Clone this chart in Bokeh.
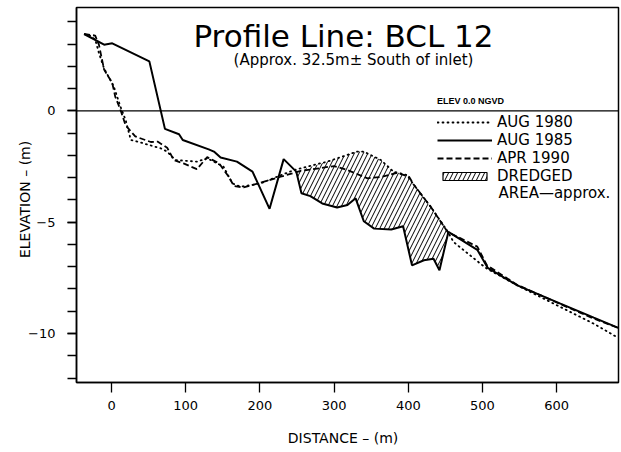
import numpy as np
from bokeh.plotting import figure
from bokeh.models import Range1d, FixedTicker, Span, Label, Legend, LegendItem
from bokeh.embed import file_html
from bokeh.resources import INLINE

# ---- data ----
x_1980 = [-30, -22, -17, -10, 3, 12, 19, 26, 35, 50, 66, 75, 86, 115, 129, 151, 163, 174,
          201, 223, 246, 291, 331, 340, 363, 380, 398, 407, 430, 452, 461, 497, 506, 551,
          605, 650, 683]
y_1980 = [3.4, 3.2, 2.6, 1.9, 1.1, 0.19, -0.41, -1.31, -1.38, -1.53, -1.68, -1.83, -2.21,
          -2.28, -2.13, -2.51, -3.26, -3.41, -3.26, -2.96, -2.66, -2.28, -1.83, -1.83,
          -2.21, -2.73, -2.88, -3.3, -4.3, -5.36, -5.89, -6.86, -7.09, -7.91, -8.81, -9.56,
          -10.2]

x_1985 = [-37, -10, 1, 51, 72, 91, 96, 131, 138, 147, 169, 190, 213, 232, 249, 256, 268,
          284, 304, 318, 329, 340, 354, 377, 393, 405, 421, 434, 442, 454, 493, 507, 547,
          605, 650, 683]
y_1985 = [3.45, 2.97, 3.03, 2.22, -0.81, -1.05, -1.31, -1.73, -1.83, -2.1, -2.28, -2.73,
          -4.4, -2.17, -2.73, -3.7, -3.83, -4.16, -4.34, -4.23, -3.93, -4.96, -5.29, -5.33,
          -5.18, -6.94, -6.71, -6.64, -7.16, -5.44, -6.24, -7.05, -7.84, -8.66, -9.29, -9.75]

x_1990 = [-37, -22, -17, -10, 1, 5, 12, 19, 32, 53, 62, 75, 84, 97, 115, 129, 145, 158, 165,
          178, 201, 228, 255, 300, 318, 345, 365, 385, 401, 407, 430, 453, 493, 506, 547,
          605, 650, 683]
y_1990 = [3.45, 3.38, 2.97, 1.85, 1.25, 0.64, 0.05, -0.65, -1.15, -1.4, -1.38, -1.66, -2.21,
          -2.36, -2.62, -2.08, -2.36, -2.96, -3.38, -3.44, -3.23, -2.96, -2.7, -2.48, -2.66,
          -3.03, -2.96, -2.78, -2.96, -3.3, -4.3, -5.44, -6.1, -6.94, -7.82, -8.68, -9.33,
          -9.75]

DREDGE_START, DREDGE_END = 249, 454

x_ticks = [0, 100, 200, 300, 400, 500, 600]
y_ticks = [-10, -5, 0]
y_minor_ticks = list(range(-12, 5))

series_labels = ["AUG 1980", "AUG 1985", "APR 1990", "DREDGED"]

# ---- dredged polygon built from the series ----
x80, y80 = np.array(x_1980, float), np.array(y_1980, float)
x85, y85 = np.array(x_1985, float), np.array(y_1985, float)
mu = (x80 > DREDGE_START) & (x80 <= DREDGE_END)
ml = (x85 >= DREDGE_START) & (x85 <= DREDGE_END)
poly_x = np.concatenate([x80[mu], x85[ml][::-1]])
poly_y = np.concatenate([y80[mu], y85[ml][::-1]])

FONT = "DejaVu Sans"

p = figure(width=620, height=451, output_backend="svg", toolbar_location=None,
           x_range=Range1d(-47.2, 683.3), y_range=Range1d(-12.2, 4.64),
           min_border_left=76, min_border_right=2, min_border_top=7, min_border_bottom=69)
p.title.visible = False
p.xgrid.visible = False
p.ygrid.visible = False
p.outline_line_color = "black"
p.outline_line_width = 1.5
p.outline_line_alpha = 1.0
p.background_fill_color = "white"
p.border_fill_color = "white"

# hatched dredged area
p.patch(poly_x, poly_y, fill_color=None, line_color=None, hatch_pattern="/",
        hatch_color="black", hatch_scale=9, hatch_weight=1)
# legend-only sample (no visible data)
legend_patch = p.patch(x=[np.nan], y=[np.nan], fill_color=None, line_color="black",
                       line_width=1.2, hatch_pattern="/", hatch_color="black",
                       hatch_scale=9, hatch_weight=1)

p.add_layout(Span(location=0, dimension="width", line_color="black", line_width=1.2))

l80 = p.line(x_1980, y_1980, line_color="black", line_width=1.8, line_dash="1 4",
             line_cap="round")
l85 = p.line(x_1985, y_1985, line_color="black", line_width=2.0)
l90 = p.line(x_1990, y_1990, line_color="black", line_width=1.8, line_dash="6 3")

# axes
for ax in (p.xaxis, p.yaxis):
    ax.axis_line_width = 1.5
    ax.major_tick_line_width = 1.3
    ax.minor_tick_line_width = 1.3
    ax.major_tick_in = 0
    ax.minor_tick_in = 0
    ax.major_label_text_font = FONT
    ax.major_label_text_font_size = "13px"
    ax.major_label_text_color = "black"
    ax.axis_label_text_font = FONT
    ax.axis_label_text_font_size = "14px"
    ax.axis_label_text_font_style = "normal"
    ax.axis_label_text_color = "black"

p.xaxis.ticker = FixedTicker(ticks=x_ticks)
p.xaxis.minor_tick_line_color = None
p.xaxis.major_tick_out = 10
p.xaxis.major_label_standoff = 8
p.xaxis.axis_label = "DISTANCE  –  (m)"
p.xaxis.axis_label_standoff = 17

p.yaxis.ticker = FixedTicker(ticks=y_ticks, minor_ticks=y_minor_ticks)
p.yaxis.major_tick_out = 9
p.yaxis.minor_tick_out = 9
p.yaxis.major_label_standoff = 12
p.yaxis.axis_label = "ELEVATION  –  (m)"
p.yaxis.axis_label_standoff = -8

# legend
legend = Legend(items=[LegendItem(label=series_labels[0], renderers=[l80]),
                       LegendItem(label=series_labels[1], renderers=[l85]),
                       LegendItem(label=series_labels[2], renderers=[l90]),
                       LegendItem(label=series_labels[3], renderers=[legend_patch])],
                location=(361, 197), glyph_width=55, glyph_height=10, label_height=16,
                label_standoff=5, spacing=0, padding=0, margin=0,
                border_line_color=None, background_fill_alpha=0,
                label_text_font=FONT, label_text_font_size="15px",
                label_text_color="black")
p.add_layout(legend)

# texts (screen units, relative to frame bottom-left)
p.add_layout(Label(x=267, y=347, x_units="screen", y_units="screen",
                   text="Profile Line: BCL 12", text_font=FONT, text_font_size="31px",
                   text_align="center", text_baseline="alphabetic", text_color="black"))
p.add_layout(Label(x=277, y=323, x_units="screen", y_units="screen",
                   text="(Approx. 32.5m± South of inlet)", text_font=FONT,
                   text_font_size="15px", text_align="center", text_baseline="alphabetic",
                   text_color="black"))
p.add_layout(Label(x=394, y=282, x_units="screen", y_units="screen",
                   text="ELEV 0.0 NGVD", text_font="Liberation Sans", text_font_size="9px",
                   text_font_style="bold", text_align="center", text_baseline="alphabetic",
                   text_color="black"))
p.add_layout(Label(x=422, y=190, x_units="screen", y_units="screen",
                   text="AREA—approx.", text_font=FONT, text_font_size="15px",
                   text_align="left", text_baseline="middle", text_color="black"))

open("out.html", "w").write(file_html(p, INLINE))
